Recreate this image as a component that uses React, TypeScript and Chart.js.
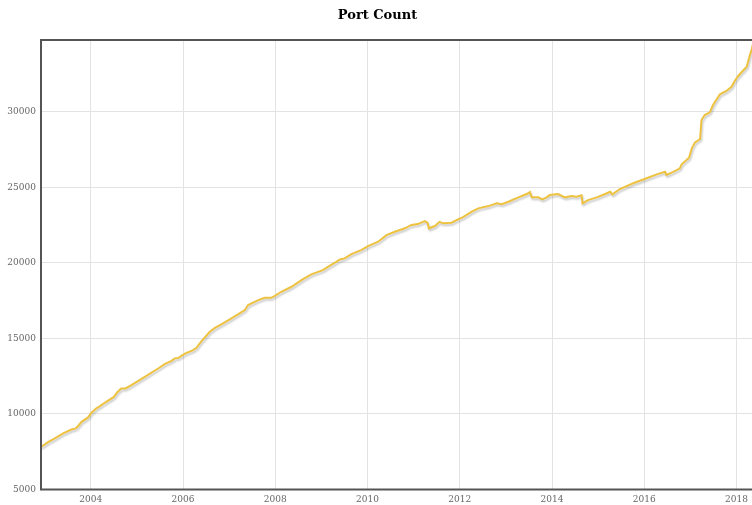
import React, { useEffect, useRef } from "react";
import { Chart, registerables } from "chart.js";

Chart.register(...registerables);

const TITLE = "Port Count";

// decimal years (x)
const YEARS: number[] = [
  2002.92, 2003.08, 2003.22, 2003.4, 2003.58, 2003.67, 2003.72, 2003.8, 2003.94, 2004.01,
  2004.12, 2004.2, 2004.3, 2004.5, 2004.58, 2004.66, 2004.75, 2004.88, 2005.17, 2005.46,
  2005.6, 2005.75, 2005.82, 2005.89, 2006.04, 2006.22, 2006.29, 2006.4, 2006.58, 2006.69,
  2006.83, 2007.05, 2007.19, 2007.34, 2007.37, 2007.41, 2007.63, 2007.77, 2007.91, 2007.99,
  2008.13, 2008.35, 2008.6, 2008.78, 2009.03, 2009.14, 2009.32, 2009.4, 2009.5, 2009.65,
  2009.86, 2010.01, 2010.23, 2010.41, 2010.59, 2010.81, 2010.95, 2011.09, 2011.24, 2011.3,
  2011.33, 2011.46, 2011.56, 2011.64, 2011.82, 2011.96, 2012.07, 2012.26, 2012.4, 2012.62,
  2012.8, 2012.91, 2013.05, 2013.27, 2013.45, 2013.52, 2013.56, 2013.7, 2013.79, 2013.88,
  2013.95, 2014.13, 2014.28, 2014.42, 2014.53, 2014.64, 2014.66, 2014.78, 2014.97, 2015.15,
  2015.26, 2015.31, 2015.47, 2015.76, 2016.05, 2016.27, 2016.45, 2016.48, 2016.63, 2016.77,
  2016.81, 2016.97, 2017.03, 2017.1, 2017.21, 2017.24, 2017.31, 2017.42, 2017.49, 2017.64,
  2017.78, 2017.89, 2017.96, 2018.04, 2018.22, 2018.27, 2018.33, 2018.38,
];

// port counts (y)
const COUNTS: number[] = [
  7820, 8150, 8380, 8710, 8970, 9040, 9190, 9480, 9770, 10070,
  10370, 10520, 10740, 11130, 11460, 11690, 11690, 11910, 12460, 13010,
  13300, 13520, 13680, 13700, 14000, 14230, 14380, 14820, 15440, 15700,
  15930, 16330, 16590, 16880, 17030, 17210, 17540, 17690, 17690, 17820,
  18090, 18420, 18930, 19240, 19520, 19740, 20070, 20230, 20300, 20580,
  20850, 21110, 21400, 21840, 22060, 22290, 22510, 22570, 22770, 22660,
  22290, 22440, 22720, 22620, 22660, 22880, 23030, 23390, 23610, 23760,
  23940, 23880, 24050, 24340, 24560, 24690, 24340, 24340, 24210, 24340,
  24490, 24560, 24340, 24430, 24380, 24470, 23940, 24160, 24340, 24560,
  24710, 24540, 24890, 25270, 25600, 25860, 26030, 25820, 26030, 26260,
  26530, 26960, 27580, 27980, 28200, 29460, 29790, 29970, 30450, 31160,
  31380, 31660, 32040, 32390, 32990, 33550, 34160, 34750,
];

const X_TICKS = [2004, 2006, 2008, 2010, 2012, 2014, 2016, 2018];
const Y_TICKS = [5000, 10000, 15000, 20000, 25000, 30000];
const X_MIN = 2002.92;
const X_MAX = 2018.4;
const Y_MIN = 5000;
const Y_MAX = 34755;

const frame = {
  id: "frame",
  afterDatasetsDraw(chart: any) {
    const { ctx, chartArea } = chart;
    ctx.save();
    ctx.strokeStyle = "#545454";
    ctx.lineWidth = 2;
    ctx.strokeRect(chartArea.left, chartArea.top, chartArea.right - chartArea.left, chartArea.bottom - chartArea.top);
    ctx.restore();
  },
};

const shadow = {
  id: "shadow",
  beforeDatasetDraw(chart: any) {
    const ctx = chart.ctx;
    ctx.save();
    ctx.shadowColor = "rgba(0,0,0,0.22)";
    ctx.shadowBlur = 2;
    ctx.shadowOffsetX = 1;
    ctx.shadowOffsetY = 2;
  },
  afterDatasetDraw(chart: any) {
    chart.ctx.restore();
  },
};

export default function App() {
  const ref = useRef<HTMLCanvasElement | null>(null);

  useEffect(() => {
    if (!ref.current) return;
    const points = YEARS.map((x, i) => ({ x, y: COUNTS[i] }));
    const tickFont = { family: "'DejaVu Serif', serif", size: 9 };
    const chart = new Chart(ref.current, {
      type: "line",
      data: {
        datasets: [
          {
            label: TITLE,
            data: points,
            borderColor: "#edc240",
            borderWidth: 2,
            pointRadius: 0,
            tension: 0,
            fill: false,
          },
        ],
      },
      options: {
        responsive: false,
        animation: false,
        layout: { padding: { left: 0, right: 5, top: 0, bottom: 0 } },
        plugins: {
          legend: { display: false },
          tooltip: { enabled: false },
          title: {
            display: true,
            text: TITLE,
            color: "#000",
            font: { family: "'DejaVu Serif', serif", size: 13, weight: "bold", lineHeight: 1.2 },
            padding: { top: 8, bottom: 16.4 },
          },
        },
        scales: {
          x: {
            type: "linear",
            min: X_MIN,
            max: X_MAX,
            afterBuildTicks: (s: any) => {
              s.ticks = X_TICKS.map((v) => ({ value: v }));
            },
            afterFit: (s: any) => {
              s.height = 15.5;
            },
            grid: { color: "#e3e3e3", lineWidth: 1, drawTicks: false },
            border: { display: false },
            ticks: {
              autoSkip: false,
              maxRotation: 0,
              padding: 5,
              color: "#666",
              font: tickFont,
              callback: (v: any) => String(v),
            },
          },
          y: {
            type: "linear",
            min: Y_MIN,
            max: Y_MAX,
            afterBuildTicks: (s: any) => {
              s.ticks = Y_TICKS.map((v) => ({ value: v }));
            },
            afterFit: (s: any) => {
              s.width = 41;
            },
            grid: { color: "#e3e3e3", lineWidth: 1, drawTicks: false },
            border: { display: false },
            ticks: {
              autoSkip: false,
              padding: 5,
              color: "#666",
              font: tickFont,
              callback: (v: any) => String(v),
            },
          },
        },
      },
      plugins: [shadow, frame],
    });
    return () => chart.destroy();
  }, []);

  return (
    <div style={{ position: "absolute", left: 0, top: 0, width: 752, height: 505, overflow: "hidden", background: "#fff" }}>
      <canvas ref={ref} width={760} height={505} style={{ display: "block", width: 760, height: 505 }} />
    </div>
  );
}
